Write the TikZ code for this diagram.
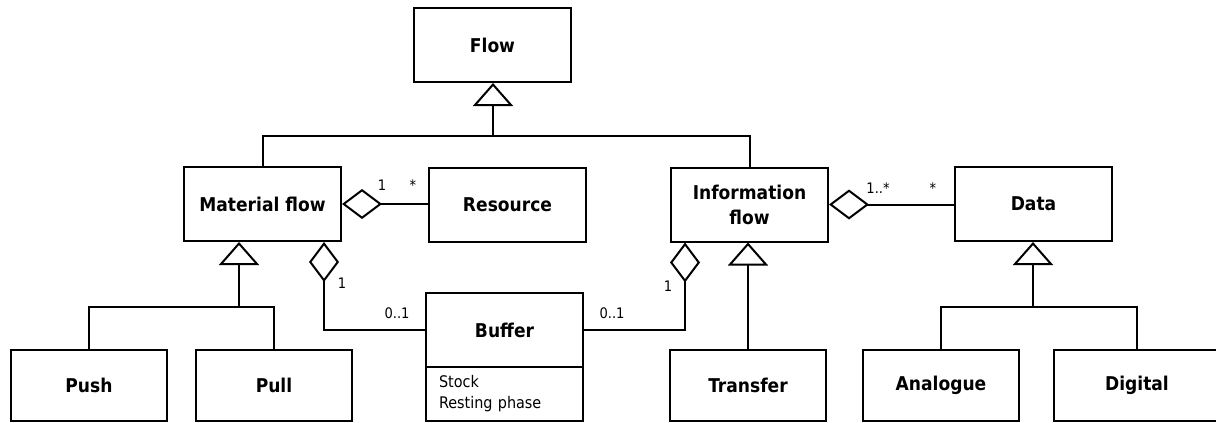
\documentclass[tikz,border=0pt]{standalone}
\usepackage{fontspec}
\setmainfont{DejaVu Sans Condensed}
\usetikzlibrary{arrows.meta}
\begin{document}
\begin{tikzpicture}[x=1pt,y=-1pt,
  conn/.style={draw,line width=2pt},
  cls/.style={draw,line width=2pt,minimum width=157pt,minimum height=74pt,
    inner sep=0pt,align=center,font=\bfseries\fontsize{19}{25}\selectfont},
  leaf/.style={cls,minimum width=156pt,minimum height=71pt},
  attrs/.style={draw,line width=2pt,minimum height=54pt,text width=131pt,
    inner xsep=13pt,inner ysep=0pt,align=left,font=\fontsize{16}{21}\selectfont},
  mult/.style={inner sep=0pt,font=\fontsize{14.5}{17}\selectfont},
  gen/.style={conn,-{Triangle[open,length=23pt,width=40pt]}},
  agg/.style={conn,{Diamond[open,length=40pt,width=30pt]}-},
]
\useasboundingbox (0,0) rectangle (1216,423);

% classes
\node[cls] (flow) at (492.5,45) {Flow};
\node[cls] (mf) at (262.5,204) {Material flow};
\node[cls] (res) at (507.5,204.5) {Resource};
\node[cls] (if) at (749.5,204.5) {Information\\flow};
\node[cls] (data) at (1033.5,204) {Data};
\node[cls] (buffer) at (504.5,330) {Buffer};
\node[attrs] (bufattr) at (504.5,394) {Stock\\Resting phase};
\node[leaf] (push) at (89,385.5) {Push};
\node[leaf] (pull) at (274,385.5) {Pull};
\node[leaf] (transfer) at (748,385.5) {Transfer};
\node[leaf] (analogue) at (941,385.5) {Analogue};
\node[leaf,minimum width=166pt] (digital) at (1137,385.5) {Digital};

% junction points of the inheritance trees
\coordinate (topbar) at (493,136);
\coordinate (mfbar) at (239,307);
\coordinate (databar) at (1033,307);
\coordinate (mfagg) at (324,0);
\coordinate (ifagg) at (685,0);

% generalisation
\draw[conn] (mf.north) |- (topbar) -| (if.north);
\draw[gen] (topbar) -- (topbar |- flow.south);
\draw[conn] (push.north) |- (mfbar) -| (pull.north);
\draw[gen] (mfbar) -- (mfbar |- mf.south);
\draw[gen] (transfer.north) -- (transfer.north |- if.south);
\draw[conn] (analogue.north) |- (databar) -| (digital.north);
\draw[gen] (databar) -- (databar |- data.south);

% aggregation
\draw[agg] (mf.east) -- (mf.east -| res.west);
\draw[agg] (if.east) -- (if.east -| data.west);
\draw[agg] (mf.south -| mfagg) |- (buffer.west);
\draw[agg] (if.south -| ifagg) |- (buffer.east);

% multiplicities
\node[mult] (m1) at (382,185) {1};
\node[mult] (m2) at (413,185) {*};
\node[mult] (m3) at (342,283) {1};
\node[mult] (m4) at (397,313) {0..1};
\node[mult] (m5) at (612,313) {0..1};
\node[mult] (m6) at (668,286) {1};
\node[mult] (m7) at (878,188) {1..*};
\node[mult] (m8) at (933,188) {*};
\end{tikzpicture}
\end{document}
